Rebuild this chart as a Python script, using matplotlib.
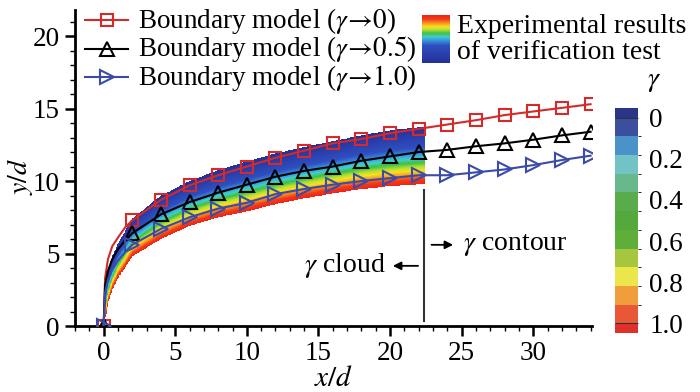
import numpy as np
import matplotlib
matplotlib.use('Agg')
import matplotlib.pyplot as plt
from matplotlib.colors import ListedColormap, BoundaryNorm, LinearSegmentedColormap
from matplotlib.ticker import MultipleLocator
import matplotlib.colorbar as mcolorbar

plt.rcParams['font.family'] = ['Liberation Serif', 'DejaVu Serif']
plt.rcParams['mathtext.fontset'] = 'stix'

# boundary model curves (markers every 2 x/d)
mark_x = [0, 2, 4, 6, 8, 10, 12, 14, 16, 18, 20, 22, 24, 26, 28, 30, 32, 34]
red_y = [0, 7.3, 8.7, 9.7, 10.4, 11.0, 11.6, 12.1, 12.6, 12.9, 13.3, 13.6, 13.9, 14.2, 14.55, 14.8, 15.05, 15.3]
black_y = [0, 6.4, 7.7, 8.55, 9.2, 9.75, 10.3, 10.7, 11.0, 11.4, 11.7, 12.0, 12.15, 12.4, 12.6, 12.85, 13.15, 13.4]
blue_y = [0, 5.6, 6.7, 7.5, 8.1, 8.5, 9.1, 9.45, 9.75, 10.0, 10.2, 10.4, 10.4, 10.6, 10.8, 11.1, 11.45, 11.75]

# extra points
near_x = [0.1, 0.3, 0.6, 1.0, 1.5]
red_near = [3.3, 4.6, 5.5, 6.1, 6.8]
black_near = [2.8, 3.8, 4.6, 5.3, 5.9]
blue_near = [2.3, 3.2, 3.9, 4.5, 5.1]

# edges of the experimental cloud
cloud_x = [0, 0.1, 0.3, 0.6, 1, 2, 4, 6, 8, 10, 12, 14, 16, 18, 20, 22.4]
cloud_top = [0, 2.8, 3.9, 4.8, 5.7, 7.4, 9.0, 10.0, 10.75, 11.35, 11.9, 12.35, 12.75, 13.15, 13.5, 13.75]
cloud_bot = [0, 0.4, 1.5, 2.5, 3.3, 4.8, 6.0, 6.9, 7.5, 7.9, 8.4, 8.8, 9.15, 9.45, 9.65, 9.8]

# colorbar bands
cb_colors = ['#2b3588', '#3c4f9f', '#4b92c9', '#72c3c6', '#68b88c', '#5aab4c',
             '#55a83c', '#60ae3a', '#a5c63d', '#ebe64b', '#f19d3b', '#e95836', '#e0302c']
cb_ticks = [0, 0.2, 0.4, 0.6, 0.8, 1.0]

fig = plt.figure(figsize=(7, 3.92), dpi=100)
ax = fig.add_axes([75/700, 1 - 326/392, 517/700, 316/392])

# cloud
gx = np.linspace(0, 22.4, 500)
gy = np.linspace(0, 15, 600)
X, Y = np.meshgrid(gx, gy)
top = np.interp(gx, cloud_x, cloud_top)
bot = np.interp(gx, cloud_x, cloud_bot)
span = np.where(top - bot > 1e-6, top - bot, 1)
G = (top[None, :] - Y) / span[None, :]
G = np.ma.masked_where((G < 0) | (G > 1) | (top[None, :] - bot[None, :] < 1e-6), G)
jet = LinearSegmentedColormap.from_list('cloud', [
    (0.0, '#25309a'), (0.36, '#2f4fc0'), (0.48, '#3a9be0'), (0.55, '#3fd0c8'),
    (0.62, '#3ec048'), (0.70, '#b8e030'), (0.76, '#f8e020'), (0.84, '#f89020'),
    (0.92, '#f03a18'), (1.0, '#ee2418')])
ax.pcolormesh(X, Y, G, cmap=jet, vmin=0, vmax=1, shading='auto', rasterized=True, zorder=1)

lines = [(red_y, red_near, '#d42a2a', 's', 9, r'Boundary model ($\gamma\!{\rightarrow}\!0$)'),
         (black_y, black_near, 'black', '^', 10, r'Boundary model ($\gamma\!{\rightarrow}\!0.5$)'),
         (blue_y, blue_near, '#3b4ba8', '>', 10, r'Boundary model ($\gamma\!{\rightarrow}\!1.0$)')]
for ys, ns, c, m, ms, lab in lines:
    lx = [mark_x[0]] + near_x + mark_x[1:]
    ly = [ys[0]] + ns + ys[1:]
    ax.plot(lx, ly, color=c, lw=1.5, marker=m, ms=ms, mfc='none', mec=c, mew=1.5,
            markevery=[0] + list(range(len(near_x) + 1, len(lx))), zorder=3)

# divider and annotations
ax.plot([22.4, 22.4], [0.35, 9.4], color='#333333', lw=1.5, zorder=2)
ax.annotate('', xy=(24.6, 5.6), xytext=(22.7, 5.6),
            arrowprops=dict(arrowstyle='-|>', color='black', lw=1.3, mutation_scale=12))
ax.annotate('', xy=(20.0, 4.15), xytext=(22.15, 4.15),
            arrowprops=dict(arrowstyle='-|>', color='black', lw=1.3, mutation_scale=12))
ax.text(25.1, 5.6, r'$\gamma$ contour', fontsize=20, ha='left', va='center')
ax.text(19.7, 4.15, r'$\gamma$ cloud', fontsize=20, ha='right', va='center')

ax.set_xlim(-2, 34.1)
ax.set_ylim(0, 21.8)
ax.set_xticks([0, 5, 10, 15, 20, 25, 30])
ax.xaxis.set_minor_locator(MultipleLocator(1))
ax.yaxis.set_major_locator(MultipleLocator(5))
ax.yaxis.set_minor_locator(MultipleLocator(1))
for s in ['top', 'right']:
    ax.spines[s].set_visible(False)
for s in ['left', 'bottom']:
    ax.spines[s].set_linewidth(2)
ax.tick_params(which='major', direction='out', length=7, width=1.8, labelsize=19.5, pad=4)
ax.tick_params(which='minor', direction='out', length=3.5, width=1)
ax.set_xlabel('$x/d$', fontsize=21, labelpad=0)
ax.set_ylabel('$y/d$', fontsize=20)
ax.yaxis.set_label_coords(-0.078, 0.475)

# legend drawn in pixel coordinates on an overlay
lax = fig.add_axes([0, 0, 1, 1], facecolor='none')
lax.set_xlim(0, 700)
lax.set_ylim(392, 0)
lax.axis('off')
row_y = [20, 48.5, 77]
for (ys, ns, c, m, ms, lab), ry in zip(lines, row_y):
    lax.plot([85, 128], [ry, ry], color=c, lw=1.5)
    lax.plot([106.5], [ry], marker=m, ms=ms, mfc='none', mec=c, mew=1.5)
    lax.text(138, ry + 7.5, lab, fontsize=19.5, ha='left', va='baseline')

# experimental results legend patch
pax = fig.add_axes([421.7/700, 1 - 62.7/392, 27.6/700, 47.7/392])
pax.imshow(np.linspace(1, 0, 100)[:, None], cmap=jet, aspect='auto', vmin=0, vmax=1)
pax.axis('off')
fig.text(457/700, 1 - 33/392, 'Experimental results', fontsize=20, va='baseline')
fig.text(457/700, 1 - 59/392, 'of verification test', fontsize=20, va='baseline')

# colorbar
cax = fig.add_axes([615/700, 1 - 332.7/392, 23/700, 224.4/392])
bounds = list(np.linspace(0, 1, 12))
cmap = ListedColormap(cb_colors[1:-1])
cmap.set_under(cb_colors[0])
cmap.set_over(cb_colors[-1])
norm = BoundaryNorm(bounds, cmap.N)
cb = mcolorbar.ColorbarBase(cax, cmap=cmap, norm=norm, extend='both', extendrect=True,
                            extendfrac=0.5/11, ticks=cb_ticks, drawedges=True,
                            orientation='vertical')
cb.dividers.set_color('#333333')
cb.dividers.set_linewidth(0.8)
cb.outline.set_visible(False)
cax.invert_yaxis()
cax.tick_params(length=0, labelsize=19.5, pad=8)
cax.set_yticklabels(['0', '0.2', '0.4', '0.6', '0.8', '1.0'])
fig.text(654/700, 1 - 82/392, r'$\gamma$', fontsize=20, ha='center', va='center')

fig.savefig('out.png', dpi=100)
